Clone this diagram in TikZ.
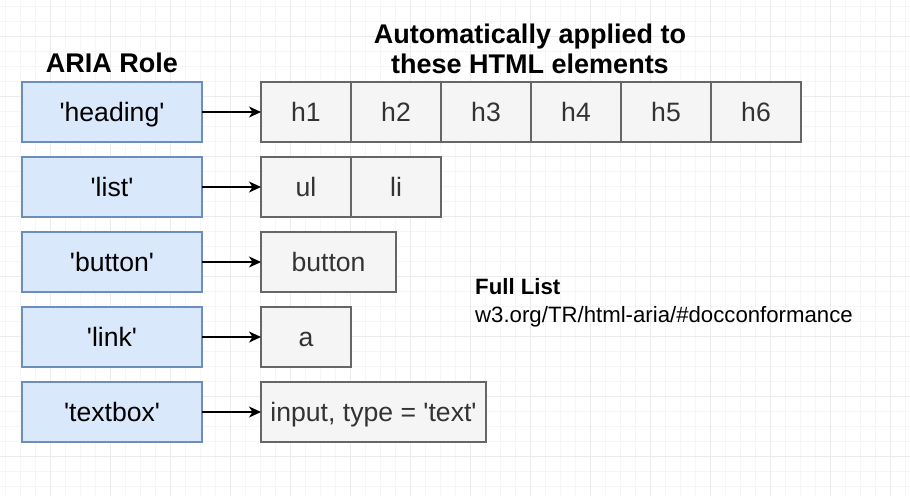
\documentclass[tikz,border=0pt]{standalone}
\usepackage{fontspec}
\setmainfont{Liberation Sans}
\usetikzlibrary{arrows.meta}
\definecolor{rolefill}{HTML}{DAE8FC}
\definecolor{roledraw}{HTML}{6C8EBF}
\definecolor{elfill}{HTML}{F5F5F5}
\definecolor{eldraw}{HTML}{666666}
\definecolor{eltext}{HTML}{333333}
\definecolor{gridminor}{HTML}{F6F6F6}
\definecolor{gridmajor}{HTML}{EBEBEB}
\begin{document}
\begin{tikzpicture}[x=1pt,y=-1pt,
  lbl/.style={font=\fontsize{26.6}{30}\selectfont, text height=19.5pt, text depth=0pt, inner sep=0pt, outer sep=0pt},
  rolebox/.style={lbl, draw=roledraw, fill=rolefill, line width=1.3pt, minimum width=180pt, minimum height=60pt},
  elbox/.style={lbl, draw=eldraw, fill=elfill, text=eltext, line width=1.3pt, minimum height=60pt, minimum width=90pt},
  conn/.style={-{Stealth[length=12pt,width=11pt,inset=3.5pt]}, line width=1.5pt},
  heading/.style={font=\bfseries\fontsize{27}{30}\selectfont, inner sep=0pt, anchor=base},
  note/.style={font=\fontsize{22.2}{26}\selectfont, inner sep=0pt, anchor=base west},
]
\useasboundingbox (0,0) rectangle (910,496);
\fill[white] (0,0) rectangle (910,496);
\foreach \x in {5,20,...,905} \draw[gridminor, line width=1pt] (\x,0) -- (\x,496);
\foreach \y in {6,21,...,495} \draw[gridminor, line width=1pt] (0,\y) -- (910,\y);
\foreach \x in {50,110,...,890} \draw[gridmajor, line width=1pt] (\x,0) -- (\x,496);
\foreach \y in {36,96,...,456} \draw[gridmajor, line width=1pt] (0,\y) -- (910,\y);

\node[heading] (roletitle) at (112,72) {ARIA Role};
\node[heading] (eltitle1) at (530,43) {Automatically applied to};
\node[heading] (eltitle2) at (530,73) {these HTML elements};

\node[rolebox] (rheading) at (112,112) {\textquotesingle heading\textquotesingle};
\node[rolebox] (rlist) at (112,187) {\textquotesingle list\textquotesingle};
\node[rolebox] (rbutton) at (112,262) {\textquotesingle button\textquotesingle};
\node[rolebox] (rlink) at (112,337) {\textquotesingle link\textquotesingle};
\node[rolebox] (rtextbox) at (112,412) {\textquotesingle textbox\textquotesingle};

\node[elbox] (h1) at (306,112) {h1};
\node[elbox] (h2) at (396,112) {h2};
\node[elbox] (h3) at (486,112) {h3};
\node[elbox] (h4) at (576,112) {h4};
\node[elbox] (h5) at (666,112) {h5};
\node[elbox] (h6) at (756,112) {h6};
\node[elbox] (ul) at (306,187) {ul};
\node[elbox] (li) at (396,187) {li};
\node[elbox, minimum width=135pt] (button) at (328.5,262) {button};
\node[elbox] (a) at (306,337) {a};
\node[elbox, minimum width=225pt] (input) at (373.5,412) {input, type = \textquotesingle text\textquotesingle};

\draw[conn] (rheading.east) -- (h1.west);
\draw[conn] (rlist.east) -- (ul.west);
\draw[conn] (rbutton.east) -- (button.west);
\draw[conn] (rlink.east) -- (a.west);
\draw[conn] (rtextbox.east) -- (input.west);

\node[note, font=\bfseries\fontsize{22.2}{26}\selectfont] (fulllist) at (475,294) {Full List};
\node[note] (url) at (475,322) {w3.org/TR/html-aria/\#docconformance};
\end{tikzpicture}
\end{document}
